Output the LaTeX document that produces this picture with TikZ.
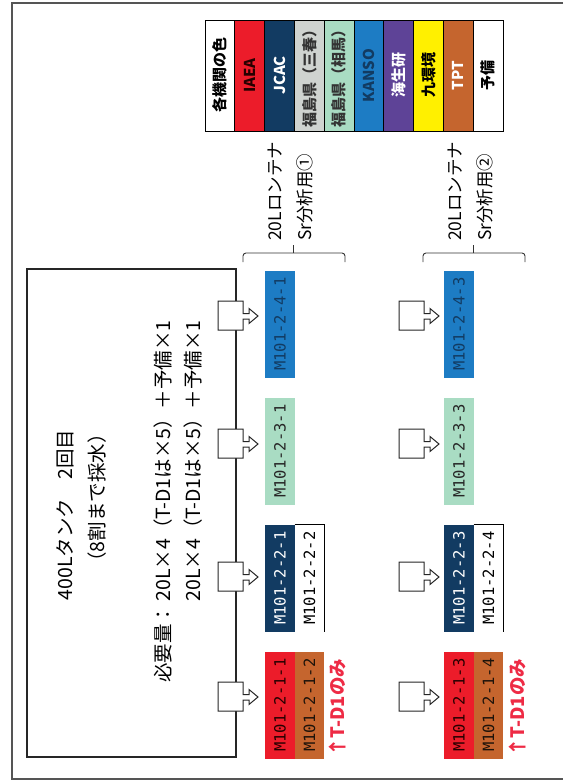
\documentclass[tikz,border=0pt]{standalone}
\usepackage{fontspec}
\setmainfont{Noto Sans CJK JP}
\newfontfamily\labmono{DejaVu Sans Mono}
\definecolor{cRed}{HTML}{EC1C2A}
\definecolor{cNavy}{HTML}{123B62}
\definecolor{cGray}{HTML}{CFD3D0}
\definecolor{cGreen}{HTML}{A9DCC3}
\definecolor{cBlue}{HTML}{1D7CC4}
\definecolor{cPurple}{HTML}{5E4397}
\definecolor{cYellow}{HTML}{FFF000}
\definecolor{cBrown}{HTML}{C5652E}
\definecolor{cPink}{HTML}{EE2B45}
\definecolor{cFrame}{HTML}{555555}
\begin{document}
\begin{tikzpicture}[x=1pt,y=-1pt,
  lbl/.style={rotate=90, minimum width=107pt, minimum height=29.5pt, inner sep=0pt,
    font=\labmono\fontsize{15.5}{16}\selectfont},
  leg/.style={rotate=90, minimum width=111pt, minimum height=29.8pt, inner sep=0pt,
    draw=black, line width=0.8pt, font=\bfseries\fontsize{15}{16}\selectfont},
  jtext/.style={rotate=90, inner sep=0pt, font=\fontsize{17.5}{30}\selectfont},
  big/.style={rotate=90, inner sep=0pt, font=\fontsize{19.5}{30}\selectfont},
  note/.style={rotate=90, inner sep=0pt, text=cPink, font=\bfseries\fontsize{18.5}{19}\selectfont},
  tap/.pic={\draw[fill=white, line width=1pt, draw=black!85]
    (-25,-15) -- (0,-15) -- (0,-2.5) -- (6,-2.5) -- (6,-7.5) -- (15,0) -- (6,7.5)
    -- (6,3) -- (0,3) -- (0,14) -- (-25,14) -- cycle;},
  brace/.style={line width=0.9pt, draw=black!80, rounded corners=3pt}
]
\useasboundingbox (0,0) rectangle (563,781);
% page frame
\draw[cFrame, line width=1.5pt] (563,3) -- (12,3) -- (12,779) -- (563,779);

% legend
\foreach \i/\f/\t/\txt in {
  0/white/black/各機関の色,
  1/cRed/black!85!red/IAEA,
  2/cNavy/white/JCAC,
  3/cGray/black!80/福島県（三春）,
  4/cGreen/black!80/福島県（相馬）,
  5/cBlue/cNavy/KANSO,
  6/cPurple/white/海生研,
  7/cYellow/black/九環境,
  8/cBrown/white/TPT,
  9/white/black/予備}{
  \node[leg, fill=\f, text=\t] (leg\i) at ({205+29.8*(\i+0.5)},75.5) {\txt};
}

% tank
\draw[line width=2.5pt, draw=black!85] (27,269) rectangle (236,757);
\node[big] (t1) at (65,515) {400Lタンク　2回目};
\node[big] (t2) at (97,498) {（8割まで採水）};
\node[big, anchor=east, align=right] (t3) at (178,320)
  {必要量：\,20L×4（T-D1は×5）＋予備×1\\20L×4（T-D1は×5）＋予備×1};

% taps
\foreach \y in {316,444,577,697}{
  \pic at (243,\y) {tap};
  \pic at (424,\y) {tap};
}

% braces and headers
\draw[brace] (243,262) -- (243,253) -- (345,253) -- (345,262);
\draw[line width=0.9pt, black!80] (293,253) -- (293,245);
\draw[brace] (423,262) -- (423,253) -- (525,253) -- (525,262);
\draw[line width=0.9pt, black!80] (473,253) -- (473,245);
\node[jtext, anchor=west, align=left] (h1) at (290,241) {20Lロンテナ\\Sr分析用①};
\node[jtext, anchor=west, align=left] (h2) at (470,241) {20Lロンテナ\\Sr分析用②};

% label boxes column 1
\node[lbl, fill=cBlue, text=cNavy] (a41) at (280,324) {M101-2-4-1};
\node[lbl, fill=cGreen, text=black!85] (a31) at (280,451) {M101-2-3-1};
\node[lbl, fill=cNavy, text=white] (a21) at (280,578) {M101-2-2-1};
\node[lbl, fill=white, text=black] (a22) at (309.5,578) {M101-2-2-2};
\draw[line width=1pt] (a22.north east) -- (a22.south east) -- (a22.south west);
\node[lbl, fill=cRed, text=black!85!red] (a11) at (280,705) {M101-2-1-1};
\node[lbl, fill=cBrown, text=black!85!brown] (a12) at (309.5,705) {M101-2-1-2};
\node[note, anchor=west] (n1) at (337,757) {↑T-D1のみ};

% label boxes column 2
\node[lbl, fill=cBlue, text=cNavy] (b43) at (459,324) {M101-2-4-3};
\node[lbl, fill=cGreen, text=black!85] (b33) at (459,451) {M101-2-3-3};
\node[lbl, fill=cNavy, text=white] (b23) at (459,578) {M101-2-2-3};
\node[lbl, fill=white, text=black] (b24) at (488.5,578) {M101-2-2-4};
\draw[line width=1pt] (b24.north east) -- (b24.south east) -- (b24.south west);
\node[lbl, fill=cRed, text=black!85!red] (b13) at (459,705) {M101-2-1-3};
\node[lbl, fill=cBrown, text=black!85!brown] (b14) at (488.5,705) {M101-2-1-4};
\node[note, anchor=west] (n2) at (517,757) {↑T-D1のみ};
\end{tikzpicture}
\end{document}
